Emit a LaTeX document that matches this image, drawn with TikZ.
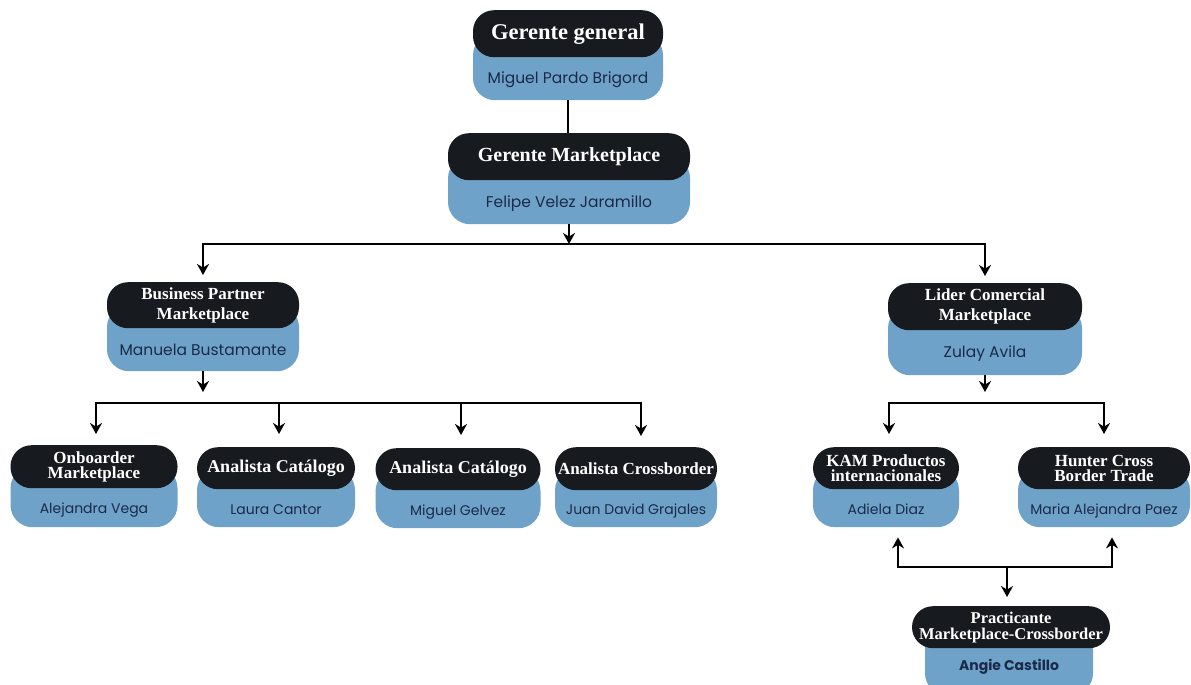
\documentclass[tikz,border=0pt]{standalone}
\usepackage{fontspec}
\usetikzlibrary{arrows.meta}
\newfontfamily\namefont{Poppins}
\newfontfamily\headfont{Liberation Serif}
\definecolor{headdark}{HTML}{171A1E}
\definecolor{cardblue}{HTML}{6FA2C9}
\definecolor{namenavy}{HTML}{1B2A48}
\tikzset{
  >={Stealth[length=11pt,width=12pt]},
  head/.style={fill=headdark, text=white, rounded corners=21pt, anchor=north,
    align=center, inner sep=1pt, font=\headfont\bfseries\fontsize{17}{15}\selectfont},
  bighead/.style={head, font=\headfont\bfseries\fontsize{20}{20}\selectfont},
  midhead/.style={head, font=\headfont\bfseries\fontsize{17}{20}\selectfont},
  card/.style={fill=cardblue, text=namenavy, rounded corners=22pt, anchor=north,
    inner sep=0pt, text height=38pt, text depth=4pt,
    font=\namefont\fontsize{14}{16}\selectfont},
  bigcard/.style={card, font=\namefont\fontsize{15.5}{16}\selectfont},
  wire/.style={line width=2.8pt, black},
}
\begin{document}
\begin{tikzpicture}[x=1pt,y=-1pt]
          \useasboundingbox (0,0) rectangle (1191,685);
          % top
          \node[bigcard, minimum width=190pt, minimum height=67pt] (gg) at (568,33) {Miguel Pardo Brigord};
          \node[bighead, minimum width=190pt, minimum height=47pt, font=\headfont\bfseries\fontsize{22.5}{20}\selectfont] (gg-t) at (568,10) {Gerente general};
          \node[bigcard, minimum width=242pt, minimum height=68pt] (gm) at (569,156) {Felipe Velez Jaramillo};
          \node[bighead, minimum width=242pt, minimum height=47pt] (gm-t) at (569,133) {Gerente Marketplace};
          % second level
          \node[bigcard, minimum width=192pt, minimum height=66pt] (bp) at (203,305) {Manuela Bustamante};
          \node[midhead, minimum width=192pt, minimum height=46pt] (bp-t) at (203,282) {Business Partner\\Marketplace};
          \node[bigcard, minimum width=194pt, minimum height=69pt] (lc) at (985,306) {Zulay Avila};
          \node[midhead, minimum width=194pt, minimum height=47pt] (lc-t) at (985,283) {Lider Comercial\\Marketplace};
          % third level, left
          \node[card, minimum width=167pt, minimum height=61pt] (ob) at (94,466) {Alejandra Vega};
          \node[head, minimum width=167pt, minimum height=43pt] (ob-t) at (94,445) {Onboarder\\Marketplace};
          \node[card, minimum width=158pt, minimum height=59pt] (lcan) at (276,468) {Laura Cantor};
          \node[head, minimum width=158pt, minimum height=42pt, font=\headfont\bfseries\fontsize{18}{15}\selectfont] (lcan-t) at (276,447) {Analista Catálogo};
          \node[card, minimum width=165pt, minimum height=59pt] (mg) at (458,469) {Miguel Gelvez};
          \node[head, minimum width=165pt, minimum height=42pt, font=\headfont\bfseries\fontsize{18}{15}\selectfont] (mg-t) at (458,448) {Analista Catálogo};
          \node[card, minimum width=162pt, minimum height=59pt] (jd) at (636,468) {Juan David Grajales};
          \node[head, minimum width=162pt, minimum height=43pt] (jd-t) at (636,447) {Analista Crossborder};
          % third level, right
          \node[card, minimum width=146pt, minimum height=59pt] (kam) at (886,468) {Adiela Diaz};
          \node[head, minimum width=146pt, minimum height=42pt] (kam-t) at (886,447) {KAM Productos\\internacionales};
          \node[card, minimum width=172pt, minimum height=59pt] (ht) at (1104,468) {Maria Alejandra Paez};
          \node[head, minimum width=172pt, minimum height=42pt] (ht-t) at (1104,447) {Hunter Cross\\Border Trade};
          % intern
          \node[card, minimum width=168pt, minimum height=68pt, text height=22pt, font=\namefont\bfseries\fontsize{14}{16}\selectfont] (pr) at (1009,627) {Angie Castillo};
          \node[head, minimum width=198pt, minimum height=42pt, font=\headfont\bfseries\fontsize{16.5}{16}\selectfont] (pr-t) at (1011,606) {Practicante\\Marketplace-Crossborder};
          % bus points
          \coordinate (bus1) at (569,244);
          \coordinate (bp-out) at (203,392);
          \coordinate (bus2) at (203,403);
          \coordinate (bus2b) at (279,403);
          \coordinate (bus2c) at (461,403);
          \coordinate (lc-out) at (985,392);
          \coordinate (bus3) at (985,403);
          \coordinate (bus4) at (1007,567);
          % connectors
          \draw[wire] (gg.south) -- (gg.south |- gm-t.north);
          \draw[wire,->] (gm.south) -- (bus1);
          \draw[wire,->,shorten >=7pt] (bus1) -| (bp-t.north);
          \draw[wire,->,shorten >=7pt] (bus1) -| (lc-t.north);
          \draw[wire,->] (bp.south) -- (bp-out);
          \draw[wire,->,shorten >=11pt] (bus2) -| ([xshift=2pt]ob-t.north);
          \draw[wire,->,shorten >=11pt] (bus2) -| ([xshift=5pt]jd-t.north);
          \draw[wire,->,shorten >=13pt] (bus2b) -- (bus2b |- lcan-t.north);
          \draw[wire,->,shorten >=13pt] (bus2c) -- (bus2c |- mg-t.north);
          \draw[wire,->] (lc.south) -- (lc-out);
          \draw[wire,->,shorten >=13pt] (bus3) -| ([xshift=3pt]kam-t.north);
          \draw[wire,->,shorten >=13pt] (bus3) -| (ht-t.north);
          \draw[wire,->,shorten >=10pt] (bus4) -| ([xshift=12pt]kam.south);
          \draw[wire,->,shorten >=10pt] (bus4) -| ([xshift=8pt]ht.south);
          \draw[wire,->,shorten >=9pt] (bus4) -- (bus4 |- pr-t.north);
        \end{tikzpicture}
\end{document}
